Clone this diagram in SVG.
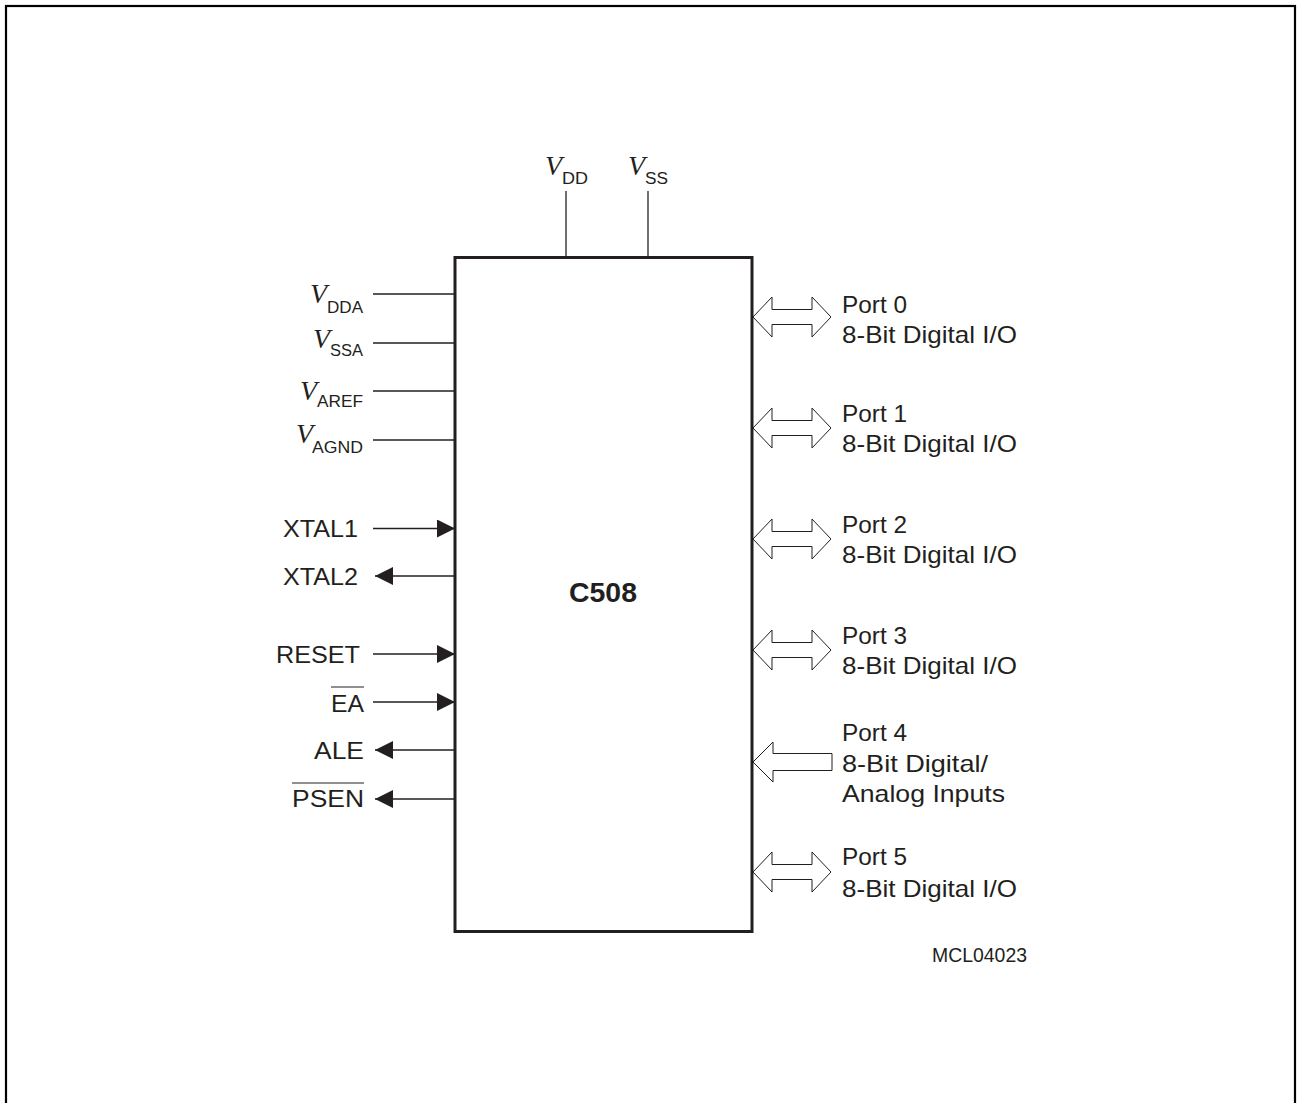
<svg xmlns="http://www.w3.org/2000/svg" xmlns:xlink="http://www.w3.org/1999/xlink" width="1297" height="1103" viewBox="0 0 1297 1103">
<style>
.t{font-family:"Liberation Sans",Arial,sans-serif;font-size:24px;fill:#231f20}
.v{font-family:"Liberation Serif","Times New Roman",serif;font-style:italic;font-size:28px;fill:#231f20}
.s{font-family:"Liberation Sans",Arial,sans-serif;font-size:16px;fill:#231f20}
.w{stroke:#231f20;stroke-width:1.3;fill:none}
.p{stroke:#231f20;stroke-width:1;fill:#fff}
</style>
<defs>
<marker id="ah" markerUnits="userSpaceOnUse" markerWidth="18" markerHeight="18" refX="18" refY="9" orient="auto">
<path d="M0,0 L18,9 L0,18 z" fill="#231f20"/>
</marker>
<polygon id="dbl" points="753,0 772,-20 772,-7.5 812,-7.5 812,-20 831,0 812,20 812,7.5 772,7.5 772,20"/>
<polygon id="inp" points="753,0 773,-20 773,-8.5 832,-8.5 832,8.5 773,8.5 773,20"/>
</defs>
<rect x="6" y="6" width="1289" height="1200" fill="#fff" stroke="#000" stroke-width="2.2"/>
<g id="connectors">
<line class="w" x1="566" y1="191" x2="566" y2="257"/>
<line class="w" x1="648" y1="191" x2="648" y2="257"/>
<line class="w" x1="373" y1="294" x2="455" y2="294"/>
<line class="w" x1="373" y1="343" x2="455" y2="343"/>
<line class="w" x1="373" y1="391" x2="455" y2="391"/>
<line class="w" x1="373" y1="440" x2="455" y2="440"/>
<line class="w" x1="373" y1="528.5" x2="455" y2="528.5" marker-end="url(#ah)"/>
<line class="w" x1="455" y1="576" x2="375" y2="576" marker-end="url(#ah)"/>
<line class="w" x1="373" y1="654" x2="455" y2="654" marker-end="url(#ah)"/>
<line class="w" x1="373" y1="702" x2="455" y2="702" marker-end="url(#ah)"/>
<line class="w" x1="455" y1="750" x2="375" y2="750" marker-end="url(#ah)"/>
<line class="w" x1="455" y1="799" x2="375" y2="799" marker-end="url(#ah)"/>
<use xlink:href="#dbl" class="p" transform="translate(0,317)"/>
<use xlink:href="#dbl" class="p" transform="translate(0,428)"/>
<use xlink:href="#dbl" class="p" transform="translate(0,539)"/>
<use xlink:href="#dbl" class="p" transform="translate(0,650)"/>
<use xlink:href="#inp" class="p" transform="translate(0,762)"/>
<use xlink:href="#dbl" class="p" transform="translate(0,872)"/>
</g>
<g id="chip">
<rect x="455" y="257.5" width="297" height="674" fill="none" stroke="#231f20" stroke-width="3"/>
<text x="603" y="602" text-anchor="middle" textLength="68" lengthAdjust="spacingAndGlyphs" style="font-family:'Liberation Sans',Arial,sans-serif;font-weight:bold;font-size:27px;fill:#231f20">C508</text>
</g>
<g id="supply-labels">
<text class="v" x="545" y="175">V</text><text class="s" x="562" y="184" textLength="26" lengthAdjust="spacingAndGlyphs">DD</text>
<text class="v" x="628" y="175">V</text><text class="s" x="645" y="184" textLength="23" lengthAdjust="spacingAndGlyphs">SS</text>
<text class="v" x="310" y="303">V</text><text class="s" x="363" y="313" text-anchor="end" textLength="36" lengthAdjust="spacingAndGlyphs">DDA</text>
<text class="v" x="313" y="348">V</text><text class="s" x="363" y="356" text-anchor="end" textLength="33" lengthAdjust="spacingAndGlyphs">SSA</text>
<text class="v" x="300" y="400">V</text><text class="s" x="363" y="407" text-anchor="end" textLength="46" lengthAdjust="spacingAndGlyphs">AREF</text>
<text class="v" x="296" y="443">V</text><text class="s" x="363" y="453" text-anchor="end" textLength="51" lengthAdjust="spacingAndGlyphs">AGND</text>
</g>
<g id="signal-labels">
<text class="t" x="358" y="537" text-anchor="end" textLength="75" lengthAdjust="spacingAndGlyphs">XTAL1</text>
<text class="t" x="358" y="585" text-anchor="end" textLength="75" lengthAdjust="spacingAndGlyphs">XTAL2</text>
<text class="t" x="360" y="663" text-anchor="end" textLength="84" lengthAdjust="spacingAndGlyphs">RESET</text>
<text class="t" x="364" y="712" text-anchor="end" textLength="33" lengthAdjust="spacingAndGlyphs">EA</text>
<line x1="331" y1="687" x2="364" y2="687" stroke="#231f20" stroke-width="1.2"/>
<text class="t" x="364" y="759" text-anchor="end" textLength="50" lengthAdjust="spacingAndGlyphs">ALE</text>
<text class="t" x="364" y="807" text-anchor="end" textLength="72" lengthAdjust="spacingAndGlyphs">PSEN</text>
<line x1="292" y1="783" x2="364" y2="783" stroke="#231f20" stroke-width="1.2"/>
</g>
<g id="port0"><text class="t" x="842" y="313" textLength="65" lengthAdjust="spacingAndGlyphs">Port 0</text><text class="t" x="842" y="343" textLength="175" lengthAdjust="spacingAndGlyphs">8-Bit Digital I/O</text></g>
<g id="port1"><text class="t" x="842" y="422" textLength="65" lengthAdjust="spacingAndGlyphs">Port 1</text><text class="t" x="842" y="452" textLength="175" lengthAdjust="spacingAndGlyphs">8-Bit Digital I/O</text></g>
<g id="port2"><text class="t" x="842" y="533" textLength="65" lengthAdjust="spacingAndGlyphs">Port 2</text><text class="t" x="842" y="563" textLength="175" lengthAdjust="spacingAndGlyphs">8-Bit Digital I/O</text></g>
<g id="port3"><text class="t" x="842" y="644" textLength="65" lengthAdjust="spacingAndGlyphs">Port 3</text><text class="t" x="842" y="674" textLength="175" lengthAdjust="spacingAndGlyphs">8-Bit Digital I/O</text></g>
<g id="port4"><text class="t" x="842" y="741" textLength="65" lengthAdjust="spacingAndGlyphs">Port 4</text><text class="t" x="842" y="772" textLength="146" lengthAdjust="spacingAndGlyphs">8-Bit Digital/</text><text class="t" x="842" y="802" textLength="163" lengthAdjust="spacingAndGlyphs">Analog Inputs</text></g>
<g id="port5"><text class="t" x="842" y="865" textLength="65" lengthAdjust="spacingAndGlyphs">Port 5</text><text class="t" x="842" y="897" textLength="175" lengthAdjust="spacingAndGlyphs">8-Bit Digital I/O</text></g>
<text id="code" x="932" y="962" textLength="95" lengthAdjust="spacingAndGlyphs" style="font-family:'Liberation Sans',Arial,sans-serif;font-size:19.5px;fill:#231f20">MCL04023</text>
</svg>
